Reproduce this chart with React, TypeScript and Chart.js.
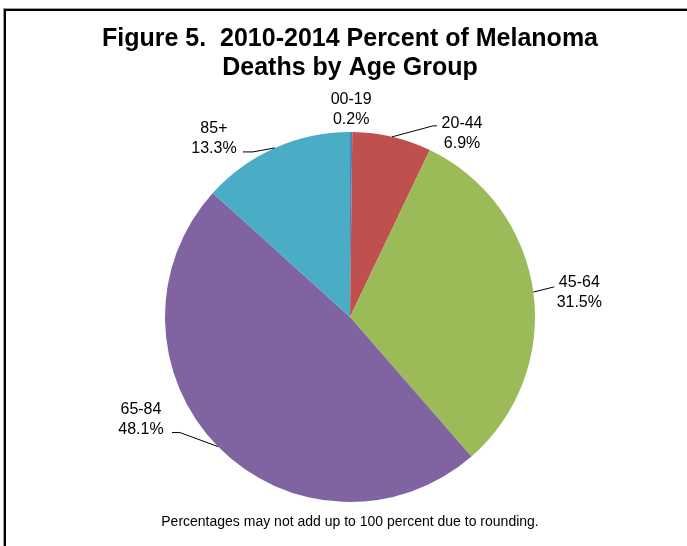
import React, { useEffect, useRef } from "react";
import { Chart, registerables } from "chart.js";

Chart.register(...registerables);

const categories = ["00-19", "20-44", "45-64", "65-84", "85+"];
const percentValues = [0.2, 6.9, 31.5, 48.1, 13.3];
const sliceColors = ["#4F81BD", "#C0504D", "#9BBB59", "#8064A2", "#4BACC6"];
const titleLines = ["Figure 5.  2010-2014 Percent of Melanoma", "Deaths by Age Group"];
const footnote = "Percentages may not add up to 100 percent due to rounding.";

// label placement relative to the slice's outer-edge midpoint
const labelLayout = [
  { leader: false, elbow: [0, 0], end: [0, 0], text: [0, -22.5] },
  { leader: true, elbow: [41, -11], end: [45, -11], text: [70, -3] },
  { leader: true, elbow: [20, -5], end: [21, -5], text: [46, 1] },
  { leader: true, elbow: [-38, -14], end: [-46, -14], text: [-77, -27] },
  { leader: true, elbow: [-22, 4], end: [-32, 4], text: [-61, -9.5] },
];

const framePlugin = {
  id: "frame",
  beforeDraw(chart: any) {
    const ctx = chart.ctx;
    ctx.save();
    ctx.fillStyle = "#ffffff";
    ctx.fillRect(0, 0, chart.width, chart.height);
    ctx.fillStyle = "#9a9a9a";
    ctx.fillRect(3, 8, chart.width, 1);
    ctx.fillRect(3, 8, 1, chart.height);
    ctx.fillStyle = "#000000";
    ctx.fillRect(4, 9, chart.width, 2);
    ctx.fillRect(4, 9, 2, chart.height);
    ctx.restore();
  },
};

const pieLabelPlugin = {
  id: "pieLabels",
  afterDatasetsDraw(chart: any) {
    const ctx = chart.ctx;
    const meta = chart.getDatasetMeta(0);
    ctx.save();
    ctx.font = '16px "Liberation Sans", Arial, sans-serif';
    ctx.fillStyle = "#000000";
    ctx.strokeStyle = "#000000";
    ctx.lineWidth = 1;
    ctx.textAlign = "center";
    ctx.textBaseline = "middle";
    meta.data.forEach((arc: any, i: number) => {
      const p = arc.getProps(["x", "y", "startAngle", "endAngle", "outerRadius"], true);
      const mid = (p.startAngle + p.endAngle) / 2;
      const ex = p.x + Math.cos(mid) * p.outerRadius;
      const ey = p.y + Math.sin(mid) * p.outerRadius;
      const L = labelLayout[i];
      if (L.leader) {
        ctx.beginPath();
        ctx.moveTo(ex, ey);
        ctx.lineTo(ex + L.elbow[0], ey + L.elbow[1]);
        ctx.lineTo(ex + L.end[0], ey + L.end[1]);
        ctx.stroke();
      }
      const tx = ex + L.text[0];
      const ty = ey + L.text[1];
      ctx.fillText(categories[i], tx, ty - 10);
      ctx.fillText(percentValues[i].toFixed(1) + "%", tx, ty + 10);
    });
    ctx.restore();
  },
};

export default function App() {
  const canvasRef = useRef<HTMLCanvasElement | null>(null);

  useEffect(() => {
    if (!canvasRef.current) return;
    const chart = new Chart(canvasRef.current, {
      type: "pie",
      data: {
        labels: categories,
        datasets: [
          {
            data: percentValues,
            backgroundColor: sliceColors,
            borderWidth: 0,
            hoverOffset: 0,
          },
        ],
      },
      options: {
        responsive: false,
        animation: false,
        layout: { padding: { left: 20, right: 7, top: 8, bottom: 0 } },
        plugins: {
          legend: { display: false },
          tooltip: { enabled: false },
          title: {
            display: true,
            text: titleLines,
            color: "#000000",
            font: { family: '"Liberation Sans", Arial, sans-serif', size: 25, weight: "bold", lineHeight: 1.16 },
            padding: { top: 16.5, bottom: 49.5 },
          },
          subtitle: {
            display: true,
            position: "bottom",
            text: footnote,
            color: "#000000",
            font: { family: '"Liberation Sans", Arial, sans-serif', size: 14, weight: "normal", lineHeight: 1.2 },
            padding: { top: 11.6, bottom: 15.6 },
          },
        },
      } as any,
      plugins: [framePlugin, pieLabelPlugin],
    });
    return () => chart.destroy();
  }, []);

  return (
    <div style={{ position: "absolute", left: 0, top: 0, width: 687, height: 546 }}>
      <canvas ref={canvasRef} width={687} height={546} style={{ display: "block" }} />
    </div>
  );
}
